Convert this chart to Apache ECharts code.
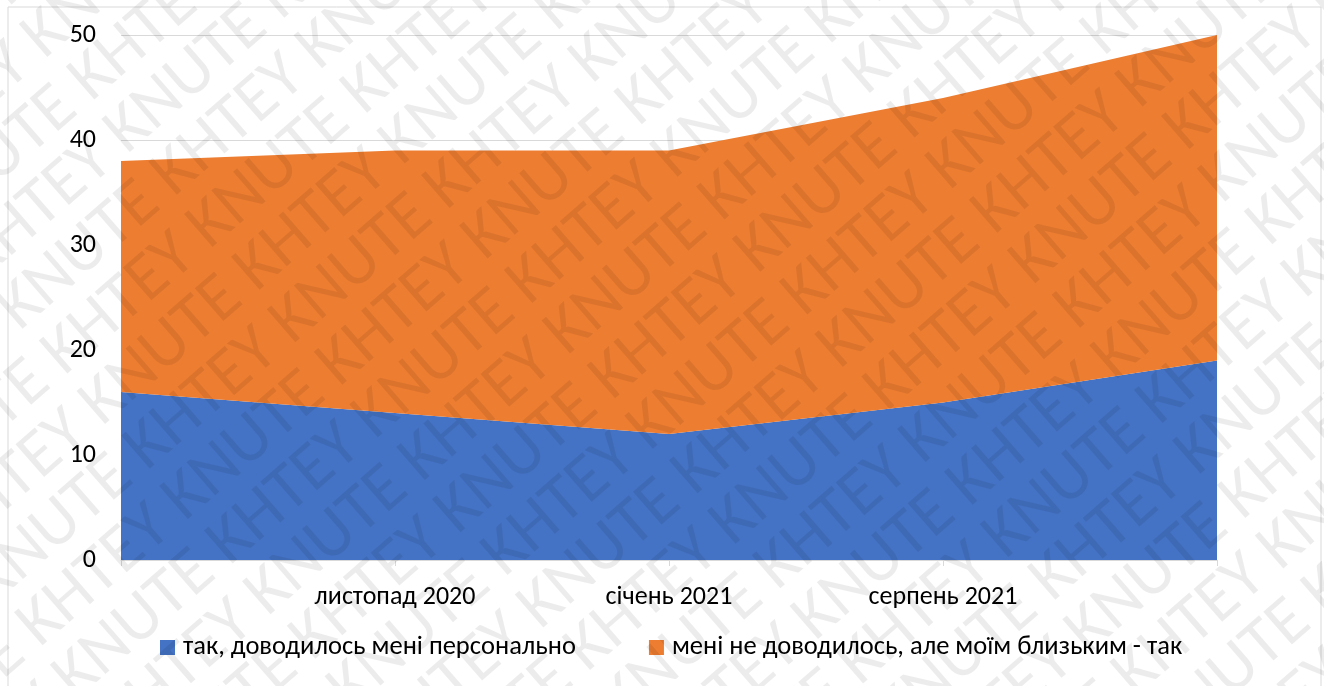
<!DOCTYPE html>
<html>
<head>
<meta charset="utf-8">
<script src="https://cdn.jsdelivr.net/npm/echarts@6/dist/echarts.min.js"></script>
<style>
  html, body { margin: 0; padding: 0; background: #fff; }
  #chart { width: 1324px; height: 686px; }
</style>
</head>
<body>
<div id="chart"></div>
<script>
  // 类目与数值
  var categories = ['', 'листопад 2020', 'січень 2021', 'серпень 2021', ''];
  var personal = [16, 14, 12, 15, 19];
  var relatives = [22, 25, 27, 29, 31];
  var seriesNames = ['так, доводилось мені персонально', 'мені не доводилось, але моїм близьким - так'];
  var yTicks = { min: 0, max: 50, interval: 10 };

  var FONT = 'Carlito, "Open Sans", "Noto Sans", sans-serif';
  var COLORS = ['#4472C4', '#ED7D31'];

  // 水印：斜向重复的文字
  function watermark() {
    var items = [];
    var a = 41 * Math.PI / 180;
    var dx = Math.cos(a), dy = -Math.sin(a);
    var nx = Math.sin(a), ny = Math.cos(a);
    var row = 'KNUTE KHTEY KNUTE KHTEY KNUTE KHTEY KNUTE KHTEY KNUTE KHTEY';
    for (var i = 0; i < 24; i++) {
      var t = i * 63 - 40;
      var s = -600 - (i % 2) * 200;
      items.push({
        type: 'text',
        x: t * nx + s * dx,
        y: t * ny + s * dy,
        rotation: a,
        silent: true,
        z: 100,
        style: {
          text: row,
          font: '68px Carlito, "Open Sans", sans-serif',
          fill: 'rgba(0,0,0,0.075)'
        }
      });
    }
    return items;
  }

  var chart = echarts.init(document.getElementById('chart'));
  chart.setOption({
    animation: false,
    backgroundColor: '#fff',
    color: COLORS,
    textStyle: { fontFamily: FONT },
    grid: { left: 121, right: 107, top: 35, bottom: 126 },
    legend: {
      bottom: 20,
      left: 155,
      itemWidth: 15,
      itemHeight: 15,
      itemGap: 73,
      icon: 'rect',
      textStyle: { fontSize: 26.5, color: '#000', fontFamily: FONT, padding: [0, 0, 0, 3] },
      data: seriesNames
    },
    xAxis: {
      type: 'category',
      boundaryGap: false,
      data: categories,
      axisLine: { show: true, lineStyle: { color: '#d9d9d9' } },
      axisTick: { show: true, length: 6, lineStyle: { color: '#d9d9d9' } },
      axisLabel: { color: '#000', fontSize: 26, margin: 24, fontFamily: FONT, interval: 0 }
    },
    yAxis: {
      type: 'value',
      min: yTicks.min,
      max: yTicks.max,
      interval: yTicks.interval,
      axisLine: { show: false },
      axisTick: { show: false },
      splitLine: { lineStyle: { color: '#d9d9d9' } },
      axisLabel: { color: '#000', fontSize: 26, margin: 25, fontFamily: FONT }
    },
    series: [{
      name: seriesNames[0],
      type: 'line',
      stack: 'total',
      data: personal,
      symbol: 'none',
      lineStyle: { width: 0 },
      areaStyle: { color: COLORS[0], opacity: 1 }
    }, {
      name: seriesNames[1],
      type: 'line',
      stack: 'total',
      data: relatives,
      symbol: 'none',
      lineStyle: { width: 0 },
      areaStyle: { color: COLORS[1], opacity: 1 }
    }],
    graphic: [{
      type: 'rect',
      silent: true,
      z: 90,
      shape: { x: 8, y: 7, width: 1313, height: 700 },
      style: { fill: 'none', stroke: '#d9d9d9', lineWidth: 1 }
    }].concat(watermark())
  });
</script>
</body>
</html>
